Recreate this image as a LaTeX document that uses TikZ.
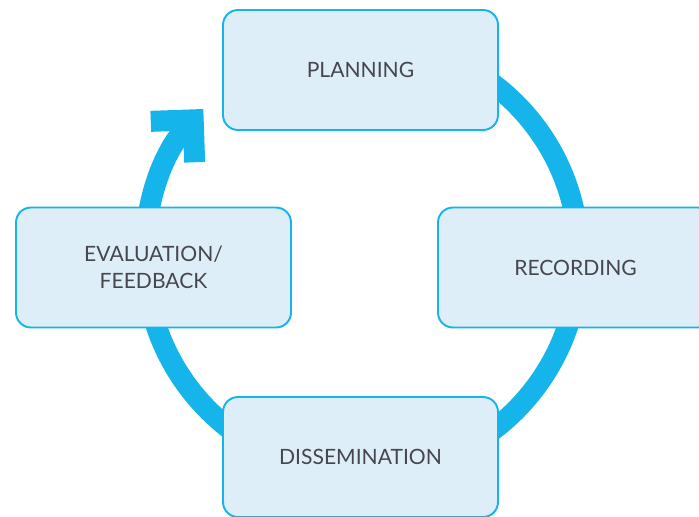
\documentclass[tikz,border=0pt]{standalone}
\usepackage{fontspec}
\setmainfont{Lato}
\usetikzlibrary{arrows.meta, positioning}
\definecolor{cycleblue}{RGB}{21,180,234}
\definecolor{boxfill}{RGB}{222,238,249}
\definecolor{labelgray}{RGB}{70,70,76}

\begin{document}
\begin{tikzpicture}[
    stage/.style={draw=cycleblue, line width=1.1pt, fill=boxfill, rounded corners=0.3cm,
      minimum width=5.5cm, minimum height=2.4cm, align=center,
      font=\fontsize{12}{15.3}\selectfont, text=labelgray},
    ring/.style={cycleblue, line width=0.42cm, -{Straight Barb[length=0.6cm, width=1.2cm]}}
  ]
  \useasboundingbox (0,0) rectangle (13.98,10.32);
  \clip (0,0) rectangle (13.98,10.32);
  \coordinate (hub) at (7.24,5.18);

  % cycle ring, runs behind the boxes
  \draw[ring] (hub) ++(100:4.34) arc[start angle=100, end angle=-223, radius=4.34];

  \node[stage] (plan) at (7.21,8.92) {PLANNING};
  \node[stage] (record) at (11.51,4.97) {RECORDING};
  \node[stage] (spread) at (7.21,1.18) {DISSEMINATION};
  \node[stage] (review) at (3.07,4.97) {EVALUATION/\\FEEDBACK};
\end{tikzpicture}
\end{document}
